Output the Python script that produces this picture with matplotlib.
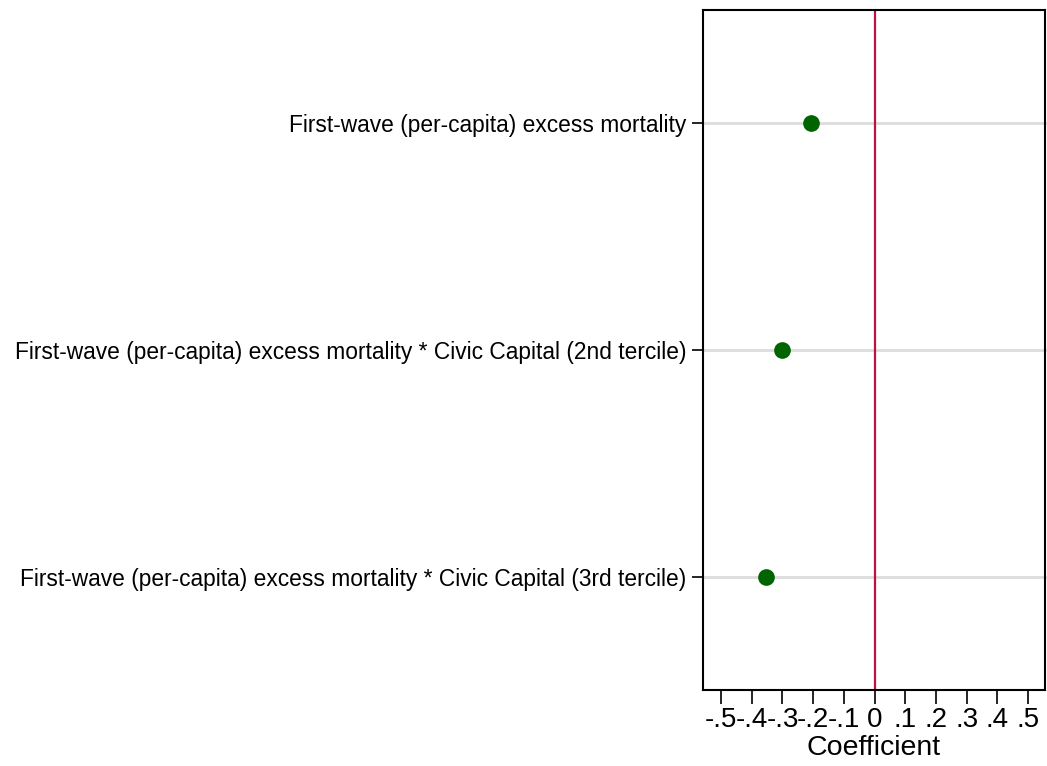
import matplotlib
matplotlib.use("Agg")
import matplotlib.pyplot as plt

plt.rcParams['font.family'] = ['Liberation Sans', 'DejaVu Sans']

labels = [
    "First-wave (per-capita) excess mortality",
    "First-wave (per-capita) excess mortality * Civic Capital (2nd tercile)",
    "First-wave (per-capita) excess mortality * Civic Capital (3rd tercile)",
]
coefs = [-0.207, -0.301, -0.355]
xticks = [-0.5, -0.4, -0.3, -0.2, -0.1, 0, 0.1, 0.2, 0.3, 0.4, 0.5]
xtick_labels = ["-.5", "-.4", "-.3", "-.2", "-.1", "0", ".1", ".2", ".3", ".4", ".5"]

fig = plt.figure(figsize=(10.47, 7.66), dpi=100)
ax = fig.add_axes([0.6714, 0.0992, 0.3266, 0.8878])

ypos = list(range(1, len(labels) + 1))
for y in ypos:
    ax.axhline(y, color="#dcdcdc", lw=2, zorder=1, clip_on=False)
ax.axvline(0, color="#c0103f", lw=1.6, zorder=2)
ax.plot(coefs, ypos, "o", color="#006400", ms=11, zorder=3, linestyle="none")

ax.set_xlim(-0.559, 0.555)
ax.set_ylim(3.5, 0.5)
ax.set_xticks(xticks)
ax.set_xticklabels(xtick_labels, fontsize=20)
ax.set_yticks(ypos)
ax.set_yticklabels(labels, fontsize=16.4)
ax.tick_params(axis="x", length=10, width=1.2, pad=2)
ax.tick_params(axis="y", length=8, width=1.2, pad=4)
ax.set_xlabel("Coefficient", fontsize=20.5, labelpad=2)
for s in ax.spines.values():
    s.set_linewidth(1.5)

fig.savefig("out.png", dpi=100)
